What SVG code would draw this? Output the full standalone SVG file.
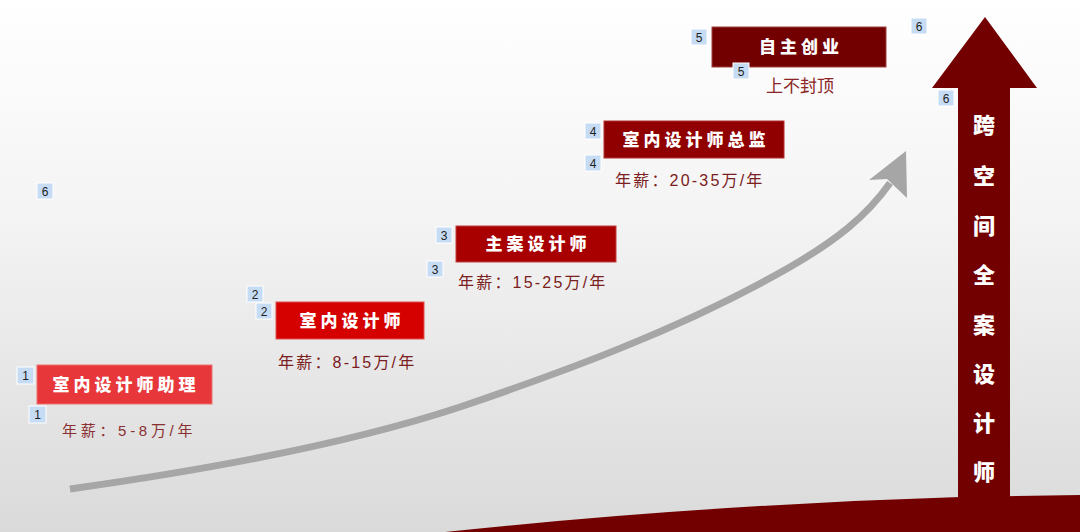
<svg xmlns="http://www.w3.org/2000/svg" width="1080" height="532" viewBox="0 0 1080 532">
<defs>
<linearGradient id="bg" x1="0" y1="0" x2="0" y2="1">
<stop offset="0" stop-color="#ffffff"/>
<stop offset="0.4" stop-color="#f4f4f4"/>
<stop offset="1" stop-color="#dadada"/>
</linearGradient>
</defs>
<style>
.box-t{font-family:"Noto Sans CJK SC","Noto Sans CJK JP",sans-serif;font-weight:900;font-size:17px;fill:#ffffff;text-anchor:middle;letter-spacing:4px}
.sal{font-family:"Liberation Sans","Noto Sans CJK SC",sans-serif;font-size:16px;fill:#7a2020;letter-spacing:2.2px}
.lab rect{fill:#c6dcf4;stroke:#ffffff;stroke-width:1}
.lab text{font-family:"Liberation Sans",sans-serif;font-size:12px;fill:#222;text-anchor:middle}
.vt{font-family:"Noto Sans CJK SC","Noto Sans CJK JP",sans-serif;font-weight:900;font-size:22px;fill:#ffffff;text-anchor:middle}
</style>
<rect width="1080" height="532" fill="url(#bg)"/>
<path d="M445,532 Q700,505 960,497 L1080,495 L1080,532 Z" fill="#730000"/>
<g id="connectors">
<path d="M70,489 C170,475 330,450 460,407 C560,373 680,330 790,267 C835,241 866,217 890,183" fill="none" stroke="#a6a6a6" stroke-width="7"/>
<polygon points="906,151 869,180 887,179 907,198" fill="#a6a6a6"/>
</g>
<g id="node6">
<polygon points="958,497 958,88 932,88 985,17 1037,88 1010,88 1010,497" fill="#730000"/>
<text class="vt" x="984" y="133">跨</text>
<text class="vt" x="984" y="184">空</text>
<text class="vt" x="984" y="234">间</text>
<text class="vt" x="984" y="283">全</text>
<text class="vt" x="984" y="333">案</text>
<text class="vt" x="984" y="382">设</text>
<text class="vt" x="984" y="431">计</text>
<text class="vt" x="984" y="480">师</text>
</g>
<g id="node1">
<rect x="37" y="365" width="175" height="39" fill="#e8373a" stroke="#ee7070" stroke-width="1"/>
<text class="box-t" x="126" y="391">室内设计师助理</text>
<text class="sal" x="62" y="436" style="font-size:15px;letter-spacing:3.7px;fill:#8a3030">年薪：5-8万/年</text>
</g>
<g id="node2">
<rect x="276" y="302" width="148" height="37" fill="#d50000" stroke="#e05050" stroke-width="1"/>
<text class="box-t" x="352" y="327">室内设计师</text>
<text class="sal" x="278" y="368">年薪：8-15万/年</text>
</g>
<g id="node3">
<rect x="456" y="226" width="160" height="36" fill="#a80000" stroke="#c04040" stroke-width="1"/>
<text class="box-t" x="538" y="250">主案设计师</text>
<text class="sal" x="458" y="288">年薪：15-25万/年</text>
</g>
<g id="node4">
<rect x="604" y="121" width="180" height="37" fill="#900000" stroke="#b03030" stroke-width="1"/>
<text class="box-t" x="696" y="146">室内设计师总监</text>
<text class="sal" x="615" y="186">年薪：20-35万/年</text>
</g>
<g id="node5">
<rect x="712" y="27" width="174" height="40" fill="#730000" stroke="#a04040" stroke-width="1"/>
<text class="box-t" x="801" y="53">自主创业</text>
<text x="800" y="92" style="font-family:'Noto Sans CJK SC',sans-serif;font-size:17px;fill:#8b2525;text-anchor:middle">上不封顶</text>
</g>
<g id="labels" class="lab">
<rect x="17" y="367" width="17" height="17"/><text x="25.5" y="380">1</text>
<rect x="29" y="406" width="17" height="17"/><text x="37.5" y="419">1</text>
<rect x="247" y="286" width="16" height="16"/><text x="255" y="298.5">2</text>
<rect x="256" y="303" width="16" height="16"/><text x="264" y="315.5">2</text>
<rect x="436" y="227" width="16" height="16"/><text x="444" y="239.5">3</text>
<rect x="427" y="261" width="16" height="16"/><text x="435" y="273.5">3</text>
<rect x="585" y="123" width="16" height="16"/><text x="593" y="135.5">4</text>
<rect x="585" y="155" width="16" height="16"/><text x="593" y="167.5">4</text>
<rect x="691" y="29" width="16" height="16"/><text x="699" y="41.5">5</text>
<rect x="733" y="63" width="16" height="16"/><text x="741" y="75.5">5</text>
<rect x="911" y="18" width="16" height="16"/><text x="919" y="30.5">6</text>
<rect x="938" y="90" width="16" height="16"/><text x="946" y="102.5">6</text>
<rect x="37" y="183" width="16" height="16"/><text x="45" y="195.5">6</text>
</g>
</svg>
